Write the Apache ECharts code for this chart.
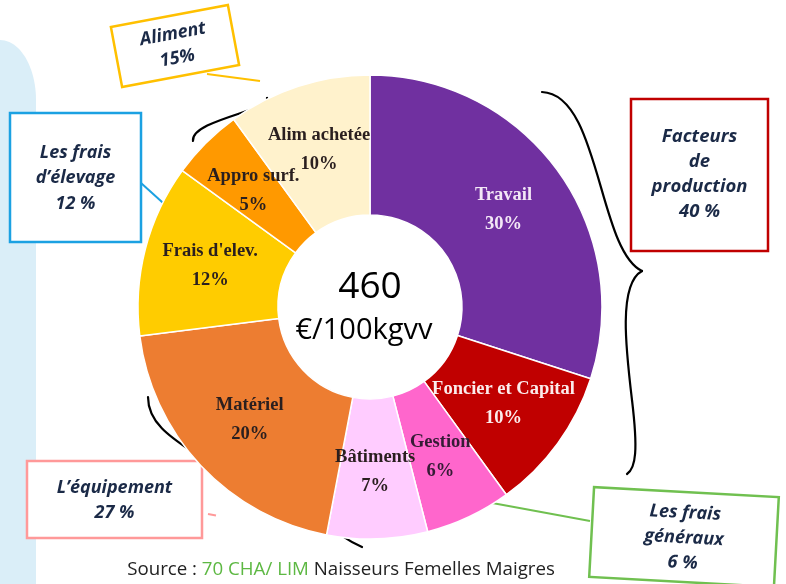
<!DOCTYPE html>
<html>
<head>
<meta charset="utf-8">
<script src="https://cdn.jsdelivr.net/npm/echarts@6/dist/echarts.min.js"></script>
<style>
html,body{margin:0;padding:0;background:#fff;}
#chart{width:786px;height:584px;}
</style>
</head>
<body>
<div id="chart"></div>
<script>
// ---- data ----
const categories = ['Travail', 'Foncier et Capital', 'Gestion', 'Bâtiments', 'Matériel', "Frais d'elev.", 'Appro surf.', 'Alim achetée'];
const shares = [30, 10, 6, 7, 20, 12, 5, 10];
const totalValue = '460';
const totalUnit = '€/100kgvv';
const groupLabels = [
  ['Facteurs', 'de', 'production', '40 %'],
  ['Les frais', 'd\u2019élevage', '12 %'],
  ['Aliment', '15%'],
  ['L\u2019équipement', '27 %'],
  ['Les frais', 'généraux', '6 %']
];

// ---- styles ----
const sliceColors = ['#7030A0', '#C00000', '#FF66CC', '#FFCCFF', '#ED7D31', '#FFCC00', '#FF9900', '#FFF2CC'];
const labelColors = ['#F3E8F6', '#FBECEC', '#351B35', '#2A1F1F', '#2A1F1F', '#2A1F1F', '#2A1F1F', '#2A1F1F'];
const navy = '#1B2A47';
const annFont = '"Open Sans", sans-serif';

function boxTexts(lines, startY, step, size) {
  return lines.map((t, i) => ({
    type: 'text',
    x: 0, y: startY + i * step,
    style: {
      text: t, fill: navy, font: 'italic bold ' + size + 'px ' + annFont,
      textAlign: 'center', textVerticalAlign: 'middle'
    }
  }));
}
function curves(segs) {
  return segs.map(s => ({
    type: 'bezierCurve',
    shape: {x1: s[0], y1: s[1], cpx1: s[2], cpy1: s[3], cpx2: s[4], cpy2: s[5], x2: s[6], y2: s[7]},
    style: {fill: null, stroke: '#000', lineWidth: 2.2, lineCap: 'round'}
  }));
}
// quarter-ellipse top of the blue band
const bandPts = [];
for (let k = 0; k <= 24; k++) {
  const a = Math.PI / 2 * k / 24;
  bandPts.push([36 * Math.sin(a), 100 - 60 * Math.cos(a)]);
}
bandPts.push([36, 584], [0, 584]);

const chart = echarts.init(document.getElementById('chart'), null, {renderer: 'canvas'});

const option = {
  backgroundColor: '#ffffff',
  animation: false,
  series: [{
    type: 'pie',
    center: [370, 307],
    radius: [92, 232],
    startAngle: 90,
    clockwise: true,
    silent: true,
    avoidLabelOverlap: false,
    minShowLabelAngle: 0,
    labelLayout: {hideOverlap: false},
    itemStyle: {borderColor: '#ffffff', borderWidth: 1.5},
    label: {
      show: true,
      position: 'inside',
      fontFamily: '"Liberation Serif", "DejaVu Serif", serif',
      fontWeight: 'bold',
      fontSize: 18.5,
      lineHeight: 29,
      align: 'center',
      formatter: p => p.name + '\n' + p.value + '%'
    },
    labelLine: {show: false},
    data: categories.map((c, i) => ({
      name: c,
      value: shares[i],
      itemStyle: {color: sliceColors[i]},
      label: {color: labelColors[i]}
    }))
  }],
  graphic: [
    {type: 'polygon', z: -10, shape: {points: bandPts}, style: {fill: '#DAEEF8'}},
    {type: 'text', x: 370, y: 287, style: {text: totalValue, font: '37px "Open Sans", sans-serif', fill: '#000', textAlign: 'center', textVerticalAlign: 'middle'}},
    {type: 'text', x: 364, y: 331, style: {text: totalUnit, font: '29px "Open Sans", sans-serif', fill: '#000', textAlign: 'center', textVerticalAlign: 'middle'}}
  ]
  .concat(curves([
    [542, 92, 600, 94, 598, 250, 642, 271],
    [642, 271, 618, 284, 626, 350, 632, 400],
    [632, 400, 638, 450, 636, 468, 627, 474]
  ]))
  .concat(curves([
    [193, 141, 191, 124, 245, 114, 262, 105],
    [262, 105, 265, 103.5, 268, 101, 267, 98],
    [267, 98, 267.7, 103.3, 273, 104, 285, 100],
    [285, 100, 310, 90, 345, 84, 352, 95]
  ]))
  .concat(curves([
    [148, 397, 148, 425, 175, 440, 200, 457],
    [200, 457, 228, 475, 246, 485, 247, 500],
    [247, 500, 255, 495, 280, 495, 300, 505],
    [300, 505, 325, 520, 335, 535, 362, 547]
  ]))
  .concat([
    {type: 'group', x: 699.5, y: 175, children: [
      {type: 'rect', shape: {x: -68.5, y: -76, width: 137, height: 152}, style: {fill: '#fff', stroke: '#C00000', lineWidth: 2.5}}
    ].concat(boxTexts(groupLabels[0], -38, 25, 18.5))},
    {type: 'line', shape: {x1: 141, y1: 183, x2: 193, y2: 230}, style: {stroke: '#1BA1E2', lineWidth: 2}},
    {type: 'group', x: 75.5, y: 177.5, children: [
      {type: 'rect', shape: {x: -65.5, y: -64.5, width: 131, height: 129}, style: {fill: '#fff', stroke: '#1BA1E2', lineWidth: 2.5}}
    ].concat(boxTexts(groupLabels[1], -25, 25.5, 18))},
    {type: 'line', shape: {x1: 207, y1: 74, x2: 260, y2: 81}, style: {stroke: '#FFC000', lineWidth: 2}},
    {type: 'group', x: 175, y: 46, rotation: 0.185, children: [
      {type: 'rect', shape: {x: -59.5, y: -30.5, width: 119, height: 61}, style: {fill: '#fff', stroke: '#FFC000', lineWidth: 2.5}}
    ].concat(boxTexts(groupLabels[2], -12, 24.5, 18))},
    {type: 'line', shape: {x1: 208, y1: 514, x2: 216, y2: 515.5}, style: {stroke: '#FF9999', lineWidth: 2}},
    {type: 'group', x: 114.5, y: 499.5, children: [
      {type: 'rect', shape: {x: -87.5, y: -38.5, width: 175, height: 77}, style: {fill: '#fff', stroke: '#FF9999', lineWidth: 2.5}}
    ].concat(boxTexts(groupLabels[3], -12, 25, 18))},
    {type: 'line', shape: {x1: 476, y1: 500, x2: 590, y2: 521}, style: {stroke: '#70C050', lineWidth: 2}},
    {type: 'group', x: 684, y: 537, rotation: -0.054, children: [
      {type: 'rect', shape: {x: -92.5, y: -45, width: 185, height: 90}, style: {fill: '#fff', stroke: '#70C050', lineWidth: 2.5}}
    ].concat(boxTexts(groupLabels[4], -24, 25, 18))},
    {type: 'text', x: 341, y: 570, style: {
      text: '{a|Source : }{b|70 CHA/ LIM}{a| Naisseurs Femelles Maigres}',
      textAlign: 'center', textVerticalAlign: 'middle',
      rich: {
        a: {fill: '#222', fontSize: 18.7, fontFamily: 'Open Sans'},
        b: {fill: '#5DB843', fontSize: 18.7, fontFamily: 'Open Sans'}
      }
    }}
  ])
};
chart.setOption(option);
</script>
</body>
</html>
